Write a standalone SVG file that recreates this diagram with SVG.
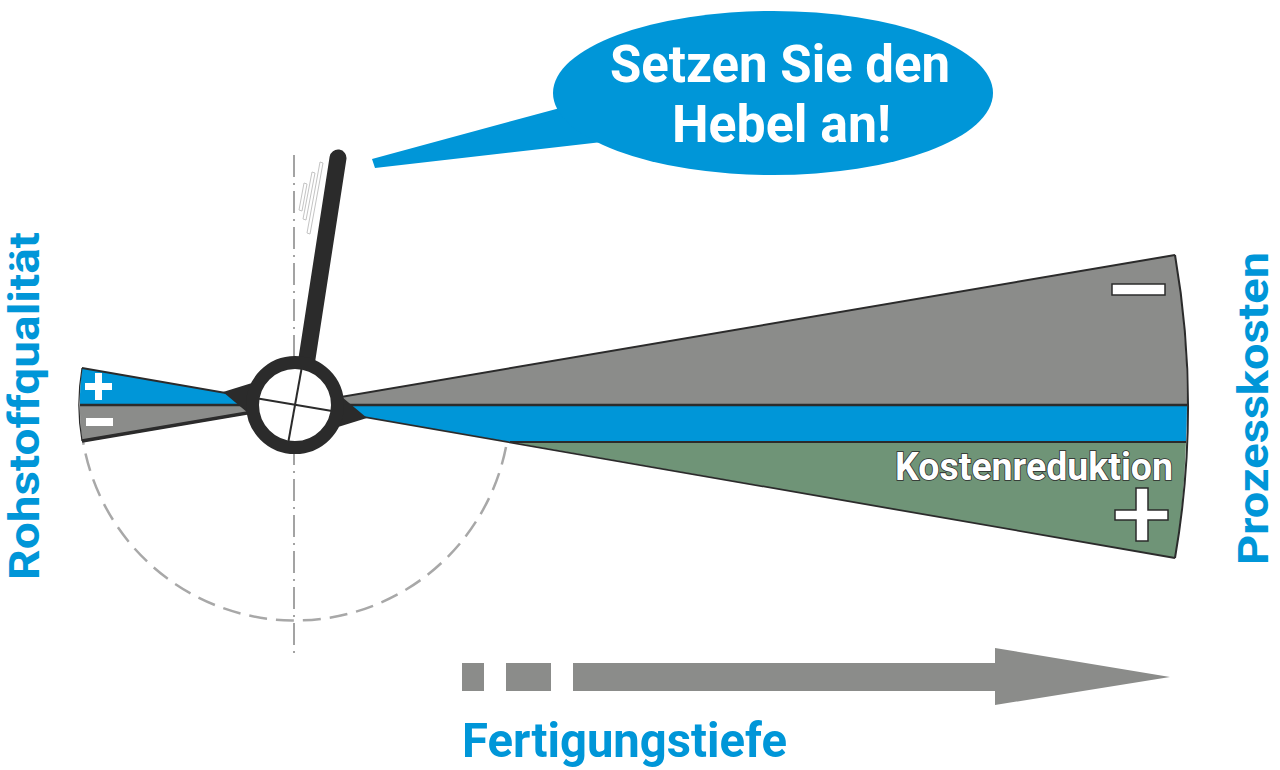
<svg xmlns="http://www.w3.org/2000/svg" width="1280" height="770" viewBox="0 0 1280 770">
<style>
.lbl{font-family:Roboto,"Liberation Sans",sans-serif;font-weight:700;fill:#0096d8}
.wt{font-family:Roboto,"Liberation Sans",sans-serif;font-weight:700;fill:#ffffff}
.dk{stroke:#2b2b2b;fill:none}
.sign{fill:#ffffff;stroke:#2b2b2b;stroke-width:1.5}
</style>
<rect width="1280" height="770" fill="#ffffff"/>

<g id="guides">
<line x1="294" y1="155" x2="294" y2="656" stroke="#a3a3a3" stroke-width="2" stroke-dasharray="22 6 2 6"/>
<path d="M 506 447 A 215 215 0 0 1 83 441" fill="none" stroke="#a8a8a8" stroke-width="2.5" stroke-dasharray="18 9"/>
</g>

<g id="hatch" fill="#ffffff" stroke="#c4c4c4" stroke-width="1">
<polygon points="320,162 323,163 310,234 307,233"/>
<polygon points="312,172 315,173 306,220 303,219"/>
<polygon points="304,183 307,184 302,211 299,210"/>
</g>

<g id="right-wedges">
<path d="M 295 405 L 1175 255 A 892.5 892.5 0 0 1 1187 405 Z" fill="#8b8c8a"/>
<path d="M 295 405 L 1187 405 A 892 892 0 0 1 1186 442 L 510 442 Z" fill="#0096d8"/>
<path d="M 510 442 L 1186 442 A 893 893 0 0 1 1175 558 Z" fill="#6f9477"/>
<path d="M 1175 255 A 892.5 892.5 0 0 1 1175 558" class="dk" stroke-width="2" stroke="#3a3a3a"/>
</g>

<g id="left-wedges">
<path d="M 295 405 L 82 368 A 215.5 215.5 0 0 0 80 405 Z" fill="#0096d8"/>
<path d="M 295 405 L 80 405 A 215.5 215.5 0 0 0 82 441 Z" fill="#8b8c8a"/>
<path d="M 82 368 A 215.5 215.5 0 0 0 82 441" class="dk" stroke-width="1.2"/>
</g>

<g id="connectors">
<line x1="82" y1="441" x2="1175" y2="255" class="dk" stroke-width="2"/>
<line x1="82" y1="441" x2="300" y2="404" class="dk" stroke-width="3.5"/>
<line x1="82" y1="368" x2="1175" y2="558" class="dk" stroke-width="1.8"/>
<line x1="80" y1="405" x2="1187" y2="405" class="dk" stroke-width="2.5"/>
<line x1="510" y1="442" x2="1186" y2="442" class="dk" stroke-width="2"/>
</g>

<g id="signs">
<path d="M 95 373 h 7 v 10 h 10 v 7 h -10 v 10 h -7 v -10 h -10 v -7 h 10 Z" fill="#ffffff"/>
<rect x="86" y="418" width="27" height="8" fill="#ffffff"/>
<rect x="1112" y="284" width="53" height="11" class="sign"/>
<path d="M 1136 488 h 12 v 22 h 20 v 10 h -20 v 21 h -12 v -21 h -21 v -10 h 21 Z" class="sign"/>
</g>

<g id="lever">
<polygon points="223,392 252,383 248,413" fill="#2b2b2b"/>
<polygon points="367,418 338,427 342,397" fill="#2b2b2b"/>
<line x1="306" y1="365" x2="338" y2="158" stroke="#2b2b2b" stroke-width="17" stroke-linecap="round"/>
<circle cx="295" cy="405" r="42.5" fill="#ffffff" stroke="#2b2b2b" stroke-width="13"/>
<line x1="301.5" y1="369" x2="288.5" y2="441" stroke="#2b2b2b" stroke-width="2"/>
<line x1="258" y1="398.5" x2="332" y2="411" stroke="#2b2b2b" stroke-width="2"/>
</g>

<g id="bubble">
<path d="M 560 108 L 372 159 L 375 168 L 602 142 Z" fill="#0096d8"/>
<ellipse cx="773" cy="93" rx="220" ry="82" fill="#0096d8"/>
<text class="wt" x="610" y="82" font-size="51" textLength="340" lengthAdjust="spacingAndGlyphs">Setzen Sie den</text>
<text class="wt" x="672" y="142" font-size="51" textLength="219" lengthAdjust="spacingAndGlyphs">Hebel an!</text>
</g>

<g id="label-kosten">
<text x="895" y="480" font-family="Roboto,'Liberation Sans',sans-serif" font-weight="700" font-size="38" fill="#ffffff" stroke="#2b2b2b" stroke-width="1.6" paint-order="stroke" textLength="278" lengthAdjust="spacingAndGlyphs">Kostenreduktion</text>
</g>

<g id="label-rohstoff">
<text class="lbl" transform="translate(39,580) rotate(-90)" font-size="43" textLength="348" lengthAdjust="spacingAndGlyphs">Rohstoffqualität</text>
</g>

<g id="label-prozess">
<text class="lbl" transform="translate(1268,565) rotate(-90)" font-size="43" textLength="313" lengthAdjust="spacingAndGlyphs">Prozesskosten</text>
</g>

<g id="arrow" fill="#8b8c8a">
<rect x="462" y="663" width="22" height="28"/>
<rect x="506" y="663" width="45" height="28"/>
<path d="M 573 663 H 995 V 648 L 1170 677 L 995 705 V 691 H 573 Z"/>
</g>

<g id="label-fertigung">
<text class="lbl" x="462" y="757" font-size="49" textLength="325" lengthAdjust="spacingAndGlyphs">Fertigungstiefe</text>
</g>
</svg>
